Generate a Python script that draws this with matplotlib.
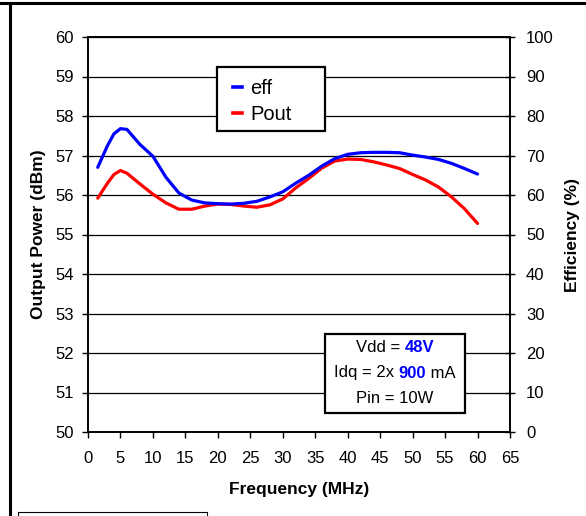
import matplotlib
matplotlib.use('Agg')
import matplotlib.pyplot as plt
from matplotlib.offsetbox import TextArea, HPacker, VPacker, AnchoredOffsetbox
from matplotlib.lines import Line2D
from matplotlib.patches import Rectangle
import numpy as np

plt.rcParams['font.family'] = ['Liberation Sans', 'DejaVu Sans']

# frequency points (MHz)
freq = [1.5, 3, 4, 5, 6, 8, 10, 12, 14, 16, 18, 20, 22, 24, 26, 28, 30,
        32, 34, 36, 38, 40, 42, 44, 46, 48, 50, 52, 54, 56, 58, 60]
# output power (dBm)
pout = [55.92, 56.30, 56.52, 56.62, 56.55, 56.28, 56.02, 55.80, 55.64, 55.64,
        55.72, 55.77, 55.76, 55.72, 55.69, 55.75, 55.90, 56.18, 56.42, 56.68,
        56.86, 56.91, 56.90, 56.84, 56.76, 56.67, 56.52, 56.38, 56.20, 55.95,
        55.65, 55.28]
# drain efficiency (%)
eff = [67.0, 72.5, 75.5, 76.8, 76.6, 72.8, 69.8, 64.5, 60.5, 58.7, 58.0,
       57.8, 57.7, 57.9, 58.4, 59.5, 60.8, 63.0, 65.0, 67.3, 69.2, 70.3,
       70.7, 70.8, 70.8, 70.7, 70.1, 69.6, 69.0, 68.0, 66.7, 65.3]

series_names = ['eff', 'Pout']
series_colors = ['#0000ff', '#ff0000']

W, H = 586, 516

def fx(px):
    return px / W

def fy(py):
    return 1 - py / H

fig = plt.figure(figsize=(W / 100, H / 100), dpi=100)
ax = fig.add_axes([fx(88), fy(432), (510 - 88) / W, (432 - 37) / H])
ax2 = ax.twinx()

ax.plot(freq, pout, color=series_colors[1], lw=2.3, solid_capstyle='round')
ax2.plot(freq, eff, color=series_colors[0], lw=2.3, solid_capstyle='round')

ax.set_xlim(0, 65)
ax.set_ylim(50, 60)
ax2.set_ylim(0, 100)
ax.set_xticks(np.arange(0, 66, 5))
ax.set_yticks(np.arange(50, 61, 1))
ax2.set_yticks(np.arange(0, 101, 10))
ax.grid(axis='y', color='black', lw=0.9)
ax.set_axisbelow(True)

for a in (ax, ax2):
    for s in a.spines.values():
        s.set_color('black')
        s.set_linewidth(1.2)
ax.tick_params(axis='x', labelsize=12, length=4, width=1, direction='out', pad=10)
ax.tick_params(axis='y', labelsize=12, length=4, width=1, direction='out', pad=6)
ax2.tick_params(labelsize=12, length=7, width=1, direction='inout', pad=8)

ax.set_xlabel('Frequency (MHz)', fontsize=12.5, fontweight='bold', labelpad=11)
ax.set_ylabel('Output Power (dBm)', fontsize=12.5, fontweight='bold', labelpad=7)
ax2.set_ylabel('Efficiency (%)', fontsize=12.5, fontweight='bold',
               rotation=90, labelpad=8)

# legend box, drawn by hand to keep the wide Excel frame
fig.add_artist(Rectangle((fx(217), fy(131)), (325 - 217) / W, (131 - 67) / H,
                         transform=fig.transFigure, facecolor='white',
                         edgecolor='black', lw=1.6, zorder=5))
for i, (name, col) in enumerate(zip(series_names, series_colors)):
    yy = 88 + i * 26
    fig.add_artist(Line2D([fx(233), fx(242)], [fy(yy - 1), fy(yy - 1)],
                          color=col, lw=2.6, zorder=6))
    fig.text(fx(250), fy(yy), name, fontsize=14.5, va='center', ha='left',
             zorder=6)

# conditions box
fs = 12
def part(txt, bold=False, color='black'):
    return TextArea(txt, textprops=dict(fontsize=fs, color=color,
                                        fontweight='bold' if bold else 'normal'))

line1 = HPacker(children=[part('Vdd = '), part('48V', True, '#0000ff')], pad=0, sep=0)
line2 = HPacker(children=[part('Idq = 2x '), part('900', True, '#0000ff'), part(' mA')],
                pad=0, sep=0)
line3 = HPacker(children=[part('Pin = 10W')], pad=0, sep=0)
box = VPacker(children=[line1, line2, line3], align='center', pad=0, sep=7.5)
fig.add_artist(Rectangle((fx(325), fy(413)), (465 - 325) / W, (413 - 334) / H,
                         transform=fig.transFigure, facecolor='white',
                         edgecolor='black', lw=1.6, zorder=5))
anch = AnchoredOffsetbox(loc='center', child=box, pad=0, frameon=False,
                         bbox_to_anchor=(fx(395), fy(373)),
                         bbox_transform=fig.transFigure, borderpad=0)
anch.set_zorder(6)
fig.add_artist(anch)

# screenshot frame remnants
fig.add_artist(Line2D([0, 1], [fy(2.5), fy(2.5)], color='black', lw=2.2))
fig.add_artist(Line2D([fx(10), fx(10)], [0, fy(2.5)], color='black', lw=2.2))
fig.add_artist(Line2D([fx(18), fx(207), fx(207)], [fy(512), fy(512), 0],
                      color='black', lw=0.8))
fig.add_artist(Line2D([fx(18), fx(18)], [fy(512), 0], color='black', lw=0.8))

fig.savefig('out.png', dpi=100)
